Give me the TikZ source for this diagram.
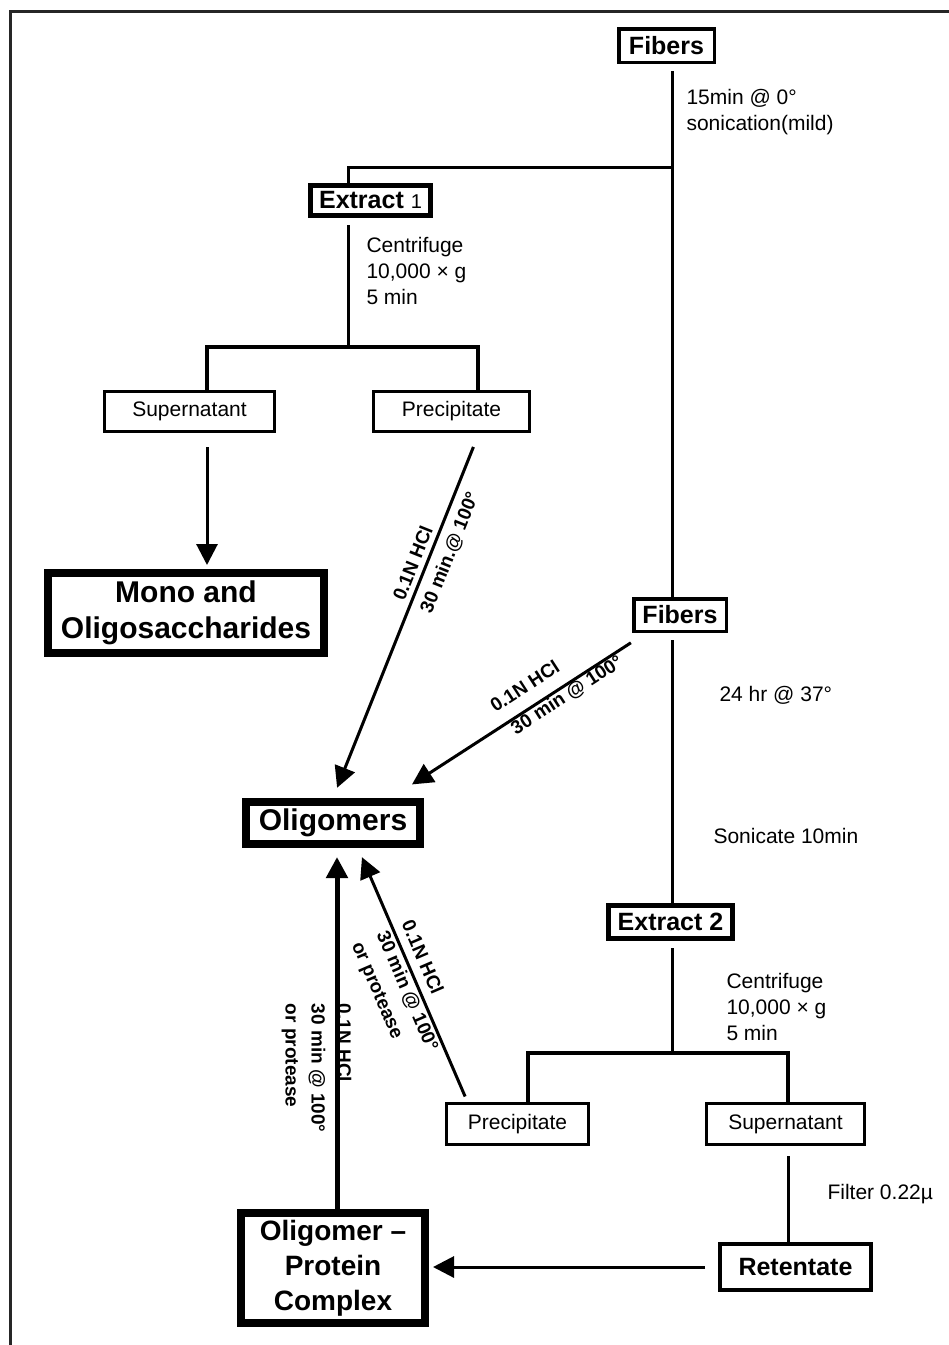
\documentclass[tikz,border=0pt]{standalone}
\usepackage{fontspec}
\setmainfont{Liberation Sans}
\usetikzlibrary{arrows.meta,positioning}

\tikzstyle{samplebox}  = [rectangle, draw=black, line width=3pt, inner sep=0pt, font=\fontsize{21}{21}\selectfont]
\tikzstyle{stagebox}   = [rectangle, draw=black, line width=5pt, inner sep=0pt, font=\bfseries\fontsize{25}{25}\selectfont]
\tikzstyle{productbox} = [rectangle, draw=black, line width=8pt, inner sep=0pt, align=center, font=\bfseries\fontsize{30}{36.5}\selectfont]
\tikzstyle{link}       = [line width=3pt, shorten <=7pt]
\tikzstyle{branch}     = [line width=4pt]
\tikzstyle{flow}       = [line width=3pt, -{Triangle[length=21pt, width=21pt]}]
\tikzstyle{note}       = [anchor=west, inner sep=0pt, align=left, font=\fontsize{21}{26}\selectfont]
\tikzstyle{treat}      = [sloped, inner sep=0pt, align=left, font=\bfseries\fontsize{19}{27}\selectfont]

\begin{document}
\begin{tikzpicture}[x=1pt, y=-1pt]
    \useasboundingbox (0,0) rectangle (949,1345);
    \draw[line width=3pt, black!85] (949,11) -| (10,1345);

    \node (fibers)    [stagebox, line width=3.5pt, minimum width=95.5, minimum height=33.5] at (666.5,45.5)  {Fibers};
    \node (extract1)  [stagebox, minimum width=120, minimum height=30]   at (370.5,200.5) {Extract {\mdseries\fontsize{20}{20}\selectfont 1}};
    \node (super1)    [samplebox, minimum width=170, minimum height=40]  at (189.5,411.5) {Supernatant};
    \node (precip1)   [samplebox, minimum width=156, minimum height=40]  at (451.5,411.5) {Precipitate};
    \node (mono)      [productbox, minimum width=276, minimum height=80] at (186,613)     {Mono and\\Oligosaccharides};
    \node (fibers2)   [stagebox, line width=3.5pt, minimum width=92.5, minimum height=32.5] at (680,615) {Fibers};
    \node (oligomers) [productbox, minimum width=174, minimum height=42] at (333,823)     {Oligomers};
    \node (extract2)  [stagebox, minimum width=124, minimum height=33]   at (670.5,922)   {Extract 2};
    \node (precip2)   [samplebox, minimum width=142, minimum height=41]  at (517.5,1124)  {Precipitate};
    \node (super2)    [samplebox, minimum width=158, minimum height=41]  at (785.5,1124)  {Supernatant};
    \node (retentate) [stagebox, line width=4pt, minimum width=151, minimum height=46] at (795.5,1267) {Retentate};
    \node (complex)   [productbox, font=\bfseries\fontsize{28}{35}\selectfont, minimum width=184, minimum height=110] at (333,1268) {Oligomer --\\Protein\\Complex};

    \coordinate (split1) at (672,167);
    \coordinate (split2) at (348,347);
    \coordinate (split3) at (672,1053);

    % first extraction
    \draw[link] (split1 |- fibers.south) -- node[note, pos=.09, xshift=13] {15min @ 0°\\sonication(mild)} (split1 |- fibers2.north);
    \draw[link, shorten <=0pt] (split1) -| ([xshift=-22.5]extract1.north);
    \draw[link] ([xshift=-22.5]extract1.south) -- node[note, pos=.41, xshift=17] {Centrifuge\\10,000 × g\\5 min} (split2);
    \draw[branch] ([xshift=17.5]super1.north) |- (split2) -| ([xshift=26.5]precip1.north);
    \draw[flow, shorten <=14pt, shorten >=4pt] ([xshift=17.5]super1.south) -- ([xshift=17.5]super1.south |- mono.north);
    \draw[flow, shorten <=15pt, shorten >=11pt] ([xshift=27.5]precip1.south)
        -- node[treat, pos=.37, above=5pt] {0.1N HCl}
           node[treat, pos=.31, below=8pt] {30 min.@ 100°} (oligomers.north);
    \draw[flow, shorten <=18pt, shorten >=25pt] ([xshift=14]fibers2.south west)
        -- node[treat, pos=.43, above=13pt] {0.1N HCl}
           node[treat, pos=.33, below=0pt] {30 min @ 100°} ([xshift=58]oligomers.north);

    % second extraction
    \draw[link] (split1 |- fibers2.south) -- node[note, pos=.23, xshift=46] {24 hr @ 37°}
        node[note, pos=.75, xshift=40] {Sonicate 10min} (split1 |- extract2.north);
    \draw[link] (split3 |- extract2.south) -- node[note, pos=.59, xshift=53] {Centrifuge\\10,000 × g\\5 min} (split3);
    \draw[branch] ([xshift=10.5]precip2.north) |- (split3) -| ([xshift=2.5]super2.north);
    \draw[link, shorten <=10pt] ([xshift=2.5]super2.south) -- node[note, pos=.5, xshift=38] {Filter 0.22µ}
        ([xshift=2.5]super2.south |- retentate.north);
    \draw[flow, shorten <=13pt, shorten >=4pt] (retentate.west) -- (retentate.west -| complex.east);
    \draw[flow, shorten <=6pt, shorten >=10pt] ([xshift=-50]precip2.north)
        -- node[treat, pos=.454, below=-25pt] {0.1N HCl\\30 min @ 100°\\or protease} ([xshift=25]oligomers.south);
    \draw[flow, line width=5pt, shorten >=9pt] ([xshift=4]complex.north)
        -- node[treat, sloped=false, pos=.575, xshift=17, rotate=-90, anchor=north west, font=\bfseries\fontsize{19}{26}\selectfont] {0.1N HCl\\30 min @ 100°\\or protease} ([xshift=4]oligomers.south);
\end{tikzpicture}
\end{document}
